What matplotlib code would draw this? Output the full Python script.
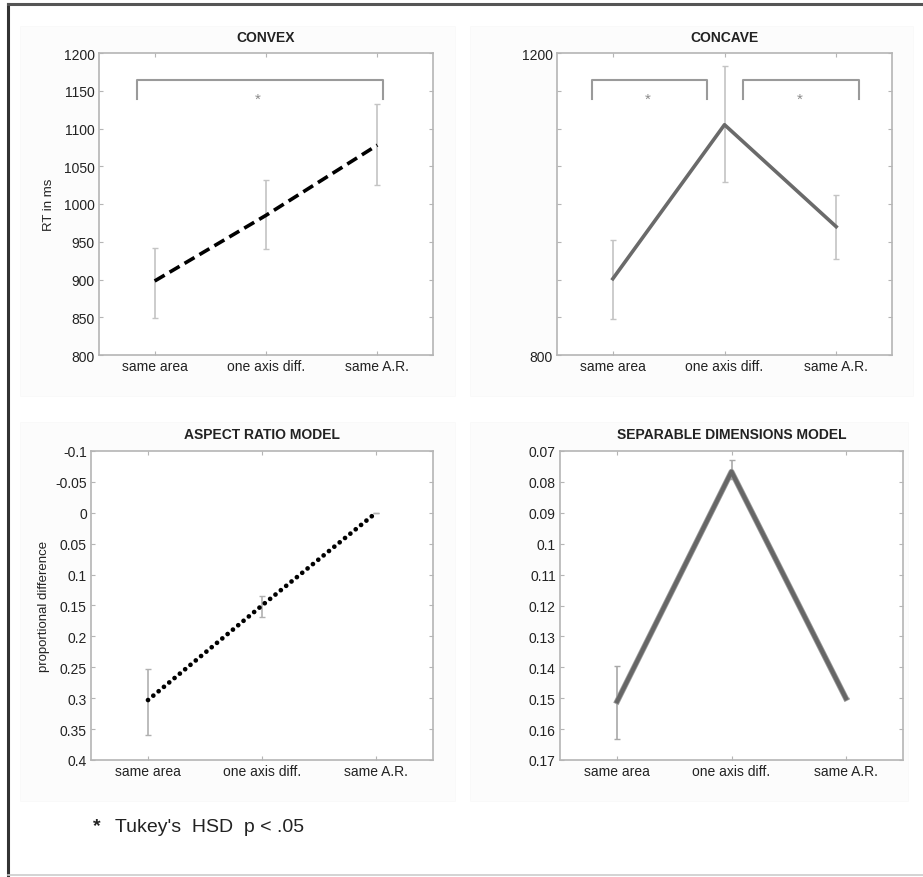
import matplotlib
matplotlib.use("Agg")
import matplotlib.pyplot as plt
import matplotlib.patheffects as pe
from matplotlib.patches import Rectangle
from matplotlib.lines import Line2D
import numpy as np

plt.rcParams['font.family'] = ['Liberation Sans', 'DejaVu Sans']

categories = ["same area", "one axis diff.", "same A.R."]
x = [1, 2, 3]

convex_mean = [898, 985, 1078]
convex_lo = [849, 941, 1025]
convex_hi = [942, 1032, 1133]

concave_mean = [901, 1105, 970]
concave_lo = [848, 1029, 927]
concave_hi = [952, 1183, 1012]

ar_mean = [0.303, 0.150, 0.0]
ar_lo = [0.253, 0.135, 0.0]
ar_hi = [0.360, 0.168, 0.0]

sd_mean = [0.151, 0.0767, 0.150]
sd_lo = [0.1396, 0.0729, 0.150]
sd_hi = [0.1633, 0.0789, 0.150]

W, H = 923, 878
fig = plt.figure(figsize=(W / 100, H / 100), dpi=100)

def rect(l, t, r, b):
    return [l / W, 1 - b / H, (r - l) / W, (b - t) / H]

# faint panel backgrounds
for (l, t, r, b) in [(20, 27, 455, 397), (470, 27, 913, 397), (20, 423, 455, 802), (470, 423, 908, 802)]:
    fig.add_artist(Rectangle((l / W, 1 - b / H), (r - l) / W, (b - t) / H,
                             transform=fig.transFigure, facecolor='#fcfcfc',
                             edgecolor='#f8f8f8', lw=0.5, zorder=-5))

# outer border
fig.add_artist(Line2D([8 / W, 8 / W], [1 - 5 / H, 1 - 876 / H], transform=fig.transFigure, color='#333333', lw=2.2))
fig.add_artist(Line2D([8 / W, 1.0], [1 - 5 / H, 1 - 5 / H], transform=fig.transFigure, color='#555555', lw=2.2))
fig.add_artist(Line2D([8 / W, 1.0], [1 - 876 / H, 1 - 876 / H], transform=fig.transFigure, color='#cccccc', lw=1.2))

FRAME = '#b5b5b5'
TXT = '#222222'

def style(ax, title, ylim, yticks, yticklabels, invert=False):
    ax.set_xlim(0.5, 3.5)
    ax.set_ylim(*ylim)
    if invert:
        ax.invert_yaxis()
    ax.set_xticks(x)
    ax.set_xticklabels(categories, fontsize=10, color=TXT)
    ax.set_yticks(yticks)
    ax.set_yticklabels(yticklabels, fontsize=10, color=TXT)
    ax.tick_params(direction='in', length=3, width=0.8, color=FRAME,
                   top=True, right=True, pad=3)
    for s in ax.spines.values():
        s.set_color(FRAME)
        s.set_linewidth(1.2)
    ax.set_title(title, fontsize=10, fontweight='bold', color=TXT, pad=9)
    ax.set_facecolor('white')

def errs(mean, lo, hi):
    return [np.array(mean) - np.array(lo), np.array(hi) - np.array(mean)]

ECOL = '#c4c4c4'
STAR = dict(ha='center', va='center', fontsize=11, color='#8a8a8a')

# CONVEX
ax1 = fig.add_axes(rect(99, 54, 433, 356))
style(ax1, "CONVEX", (800, 1200), np.arange(800, 1201, 50),
      [str(v) for v in range(800, 1201, 50)])
ax1.errorbar(x, convex_mean, yerr=errs(convex_mean, convex_lo, convex_hi), fmt='none',
             ecolor=ECOL, elinewidth=1.2, capsize=2, capthick=1)
ax1.plot(x, convex_mean, color='black', lw=2.6, linestyle=(0, (3.2, 1.6)))
ax1.plot([0.84, 0.84, 3.05, 3.05], [1139, 1164, 1164, 1139], color='#9a9a9a', lw=1.5)
ax1.text(1.93, 1139, '*', **STAR)
ax1.set_ylabel("RT in ms", fontsize=9.5, color=TXT, labelpad=6)

# CONCAVE
ax2 = fig.add_axes(rect(557, 54, 892, 356))
style(ax2, "CONCAVE", (800, 1200), np.arange(800, 1201, 50),
      ['800' if v == 800 else ('1200' if v == 1200 else '') for v in range(800, 1201, 50)])
ax2.errorbar(x, concave_mean, yerr=errs(concave_mean, concave_lo, concave_hi), fmt='none',
             ecolor=ECOL, elinewidth=1.2, capsize=2, capthick=1)
ax2.plot(x, concave_mean, color='#6a6a6a', lw=2.6)
ax2.plot([0.81, 0.81, 1.84, 1.84], [1139, 1164, 1164, 1139], color='#9a9a9a', lw=1.5)
ax2.plot([2.17, 2.17, 3.2, 3.2], [1139, 1164, 1164, 1139], color='#9a9a9a', lw=1.5)
ax2.text(1.31, 1139, '*', **STAR)
ax2.text(2.67, 1139, '*', **STAR)

# ASPECT RATIO MODEL
ax3 = fig.add_axes(rect(91, 452, 433, 761))
ar_ticks = np.round(np.arange(-0.1, 0.401, 0.05), 2)
style(ax3, "ASPECT RATIO MODEL", (-0.1, 0.4), ar_ticks,
      ['%g' % v for v in ar_ticks], invert=True)
ax3.errorbar(x, ar_mean, yerr=errs(ar_mean, ar_lo, ar_hi), fmt='none',
             ecolor='#b0b0b0', elinewidth=1.2, capsize=2, capthick=1)
ax3.plot(x, ar_mean, color='black', lw=3.4, linestyle=(0, (0.01, 1.45)),
         dash_capstyle='round')
ax3.set_ylabel("proportional difference", fontsize=9.5, color=TXT, labelpad=4)

# SEPARABLE DIMENSIONS MODEL
ax4 = fig.add_axes(rect(560, 452, 903, 761))
sd_ticks = np.round(np.arange(0.07, 0.1701, 0.01), 2)
style(ax4, "SEPARABLE DIMENSIONS MODEL", (0.07, 0.17), sd_ticks,
      ['%g' % v for v in sd_ticks], invert=True)
ax4.errorbar(x, sd_mean, yerr=errs(sd_mean, sd_lo, sd_hi), fmt='none',
             ecolor='#a8a8a8', elinewidth=1.2, capsize=2, capthick=1)
ax4.plot(x, sd_mean, color='#666666', lw=3.0,
         path_effects=[pe.Stroke(linewidth=4.2, foreground='#9a9a9a'), pe.Normal()])

# footnote
fig.text(97 / W, 1 - 827 / H, '*', fontsize=14, fontweight='bold', color='#222222',
         ha='center', va='center')
fig.text(115 / W, 1 - 828 / H, "Tukey's  HSD  p < .05", fontsize=14, color='#222222',
         ha='left', va='center')

fig.savefig("out.png", dpi=100)
